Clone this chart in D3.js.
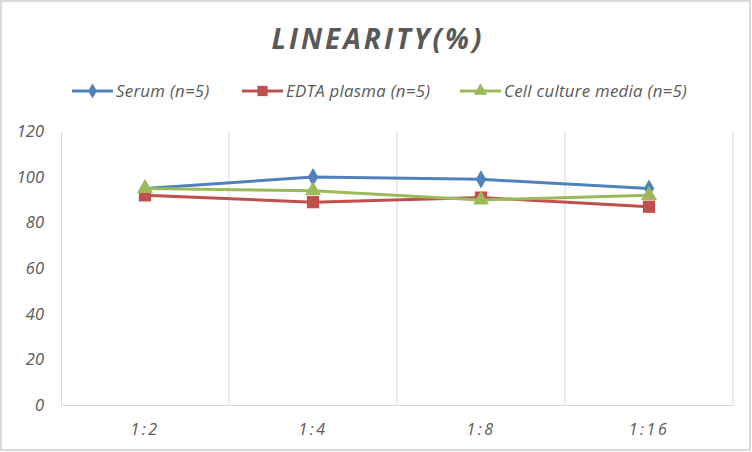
<!DOCTYPE html>
<html>
<head>
<meta charset="utf-8">
<script src="https://cdn.jsdelivr.net/npm/d3@7"></script>
<style>
  body { margin: 0; background: #fff; }
  svg { display: block; }
  text { font-family: "Open Sans", "Liberation Sans", sans-serif; font-style: italic; fill: #595959; }
</style>
</head>
<body>
<div id="chart"></div>
<script>
var categories = ["1:2", "1:4", "1:8", "1:16"]
var serumValues = [95, 100, 99, 95]
var edtaValues = [92, 89, 91, 87]
var cellValues = [95, 94, 90, 92]
var seriesNames = ["Serum (n=5)", "EDTA plasma (n=5)", "Cell culture media (n=5)"]
var yTicks = [0, 20, 40, 60, 80, 100, 120]

var width = 752
var height = 452
var plot = {left: 61, right: 733, top: 131.5, bottom: 405}

var series = [
    {name: seriesNames[0], values: serumValues, color: "#4f81bd", symbol: d3.symbolDiamond, size: 95},
    {name: seriesNames[1], values: edtaValues, color: "#c0504d", symbol: d3.symbolSquare, size: 150},
    {name: seriesNames[2], values: cellValues, color: "#9bbb59", symbol: d3.symbolTriangle, size: 110}
]

var svg = d3.select("#chart").append("svg")
    .attr("width", width)
    .attr("height", height)

// outer chart border
svg.append("rect")
    .attr("x", 1).attr("y", 1)
    .attr("width", width - 3).attr("height", height - 3)
    .attr("fill", "#fff")
    .attr("stroke", "#d9d9d9")
    .attr("stroke-width", 2)

var xScale = d3.scaleBand()
    .domain(categories)
    .range([plot.left, plot.right])

var yScale = d3.scaleLinear()
    .domain([0, 120])
    .range([plot.bottom, plot.top])

// vertical gridlines at category boundaries
var bounds = categories.map(function(c) { return xScale(c) + xScale.bandwidth() })
svg.append("g").selectAll("line")
    .data(bounds)
    .join("line")
    .attr("x1", d => d).attr("x2", d => d)
    .attr("y1", plot.top).attr("y2", plot.bottom)
    .attr("stroke", "#d9d9d9")
    .attr("stroke-width", 1)

// y axis
var yAxis = svg.append("g")
    .attr("transform", "translate(" + plot.left + ",0)")
    .call(d3.axisLeft(yScale).tickValues(yTicks).tickSize(0).tickPadding(17))
yAxis.select(".domain").attr("stroke", "#d9d9d9")
yAxis.selectAll("text")
    .style("font-size", "16.5px")
    .style("font-family", "'Open Sans', sans-serif")
    .attr("fill", "#595959")

// x axis
var xAxis = svg.append("g")
    .attr("transform", "translate(0," + plot.bottom + ")")
    .call(d3.axisBottom(xScale).tickSize(0).tickPadding(19))
xAxis.select(".domain").attr("stroke", "#d9d9d9")
xAxis.selectAll("text")
    .style("font-size", "16px")
    .style("font-family", "'Open Sans', sans-serif")
    .style("letter-spacing", "2.5px")
    .attr("fill", "#595959")

var line = d3.line()
    .x(function(d, i) { return xScale(categories[i]) + xScale.bandwidth() / 2 })
    .y(function(d) { return yScale(d) })

series.forEach(function(s) {
    svg.append("path")
        .datum(s.values)
        .attr("fill", "none")
        .attr("stroke", s.color)
        .attr("stroke-width", 3)
        .attr("d", line)
    svg.append("g").selectAll("path")
        .data(s.values)
        .join("path")
        .attr("transform", function(d, i) {
            return "translate(" + (xScale(categories[i]) + xScale.bandwidth() / 2) + "," + yScale(d) + ")"
        })
        .attr("d", d3.symbol().type(s.symbol).size(s.size))
        .attr("fill", s.color)
})

// title
svg.append("text")
    .attr("x", 378)
    .attr("y", 49)
    .attr("text-anchor", "middle")
    .style("font-size", "28px")
    .style("font-weight", "bold")
    .style("letter-spacing", "3px")
    .text("LINEARITY(%)")

// legend
var legendX = [72, 242, 460]
var legend = svg.append("g")
series.forEach(function(s, i) {
    var g = legend.append("g").attr("transform", "translate(" + legendX[i] + ",91)")
    g.append("line")
        .attr("x1", 0).attr("x2", 41)
        .attr("stroke", s.color).attr("stroke-width", 3)
    g.append("path")
        .attr("transform", "translate(20.5,0)")
        .attr("d", d3.symbol().type(s.symbol).size(s.size * 0.7))
        .attr("fill", s.color)
    g.append("text")
        .attr("x", 44)
        .attr("y", 6)
        .style("font-size", "16.8px")
        .style("letter-spacing", "0.3px")
        .text(s.name)
})
</script>
</body>
</html>
